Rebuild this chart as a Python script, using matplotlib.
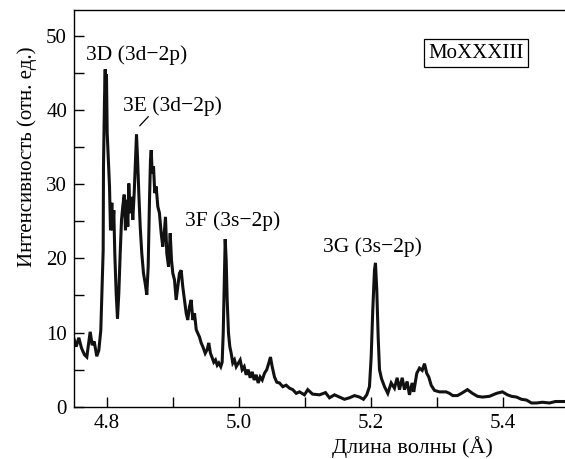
import matplotlib
matplotlib.use("Agg")
import matplotlib.pyplot as plt
from matplotlib.ticker import MultipleLocator

plt.rcParams['font.family'] = ['Liberation Serif', 'DejaVu Serif']

# Wavelength (Angstrom) and intensity (rel. units)
wavelength = [
    4.7492, 4.7533, 4.7573, 4.7614, 4.7659, 4.7694, 4.7745, 4.7776, 4.7806, 4.7845,
    4.7876, 4.7906, 4.7927, 4.7942, 4.7947, 4.7962, 4.7973, 4.7982, 4.7992, 4.8003,
    4.8018, 4.8038, 4.8053, 4.8073, 4.8088, 4.8103, 4.8118, 4.8139, 4.8159, 4.8179,
    4.8200, 4.8220, 4.8239, 4.8261, 4.8280, 4.8300, 4.8315, 4.8330, 4.8352, 4.8371,
    4.8391, 4.8412, 4.8432, 4.8447, 4.8462, 4.8482, 4.8503, 4.8527, 4.8553, 4.8579,
    4.8603, 4.8624, 4.8644, 4.8659, 4.8670, 4.8685, 4.8705, 4.8724, 4.8745, 4.8770,
    4.8795, 4.8821, 4.8845, 4.8871, 4.8886, 4.8906, 4.8932, 4.8958, 4.8977, 4.8997,
    4.9023, 4.9048, 4.9073, 4.9098, 4.9124, 4.9148, 4.9174, 4.9200, 4.9224, 4.9250,
    4.9276, 4.9300, 4.9326, 4.9352, 4.9376, 4.9402, 4.9427, 4.9452, 4.9488, 4.9518,
    4.9542, 4.9568, 4.9594, 4.9618, 4.9644, 4.9670, 4.9694, 4.9724, 4.9745, 4.9761,
    4.9776, 4.9791, 4.9806, 4.9821, 4.9841, 4.9861, 4.9882, 4.9906, 4.9932, 4.9958,
    4.9992, 5.0018, 5.0048, 5.0079, 5.0109, 5.0139, 5.0170, 5.0200, 5.0230, 5.0261,
    5.0291, 5.0321, 5.0352, 5.0386, 5.0421, 5.0452, 5.0477, 5.0503, 5.0538, 5.0573,
    5.0614, 5.0664, 5.0715, 5.0765, 5.0815, 5.0867, 5.0917, 5.0992, 5.1042, 5.1114,
    5.1220, 5.1311, 5.1371, 5.1447, 5.1523, 5.1598, 5.1674, 5.1750, 5.1826, 5.1886,
    5.1936, 5.1977, 5.2003, 5.2027, 5.2053, 5.2068, 5.2088, 5.2109, 5.2129, 5.2159,
    5.2205, 5.2255, 5.2306, 5.2356, 5.2397, 5.2432, 5.2473, 5.2508, 5.2548, 5.2583,
    5.2624, 5.2648, 5.2694, 5.2735, 5.2776, 5.2811, 5.2845, 5.2876, 5.2912, 5.2962,
    5.3038, 5.3139, 5.3189, 5.3239, 5.3311, 5.3371, 5.3462, 5.3538, 5.3614, 5.3689,
    5.3795, 5.3902, 5.3992, 5.4068, 5.4129, 5.4205, 5.4280, 5.4356, 5.4432, 5.4508,
    5.4598, 5.4705, 5.4795, 5.4902, 5.4947,
]
intensity = [
    9.4, 8.1, 9.3, 7.9, 7.0, 6.7, 10.1, 8.3, 8.8, 6.8,
    7.6, 10.3, 16.7, 21.1, 32.4, 41.4, 45.5, 40.0, 44.8, 36.9,
    33.7, 29.7, 23.8, 27.5, 23.8, 26.5, 20.7, 15.3, 11.9, 15.3,
    20.7, 25.2, 27.0, 28.6, 23.8, 27.9, 24.3, 30.1, 26.1, 28.3,
    25.2, 28.8, 33.3, 36.7, 33.7, 28.8, 24.3, 20.7, 18.0, 16.6,
    15.1, 18.9, 27.9, 33.3, 34.6, 31.5, 32.4, 28.8, 29.7, 27.0,
    26.1, 23.4, 21.6, 23.8, 25.6, 20.7, 18.9, 23.4, 19.8, 18.0,
    17.1, 14.4, 16.2, 18.0, 18.4, 16.2, 14.4, 12.6, 11.7, 13.5,
    14.4, 11.7, 12.6, 10.4, 9.9, 9.4, 8.6, 8.1, 7.2, 7.7,
    8.6, 7.2, 6.6, 6.0, 6.3, 5.6, 5.9, 5.4, 6.0, 9.9,
    16.6, 22.6, 19.8, 14.4, 9.9, 8.1, 7.2, 5.9, 6.3, 5.4,
    5.9, 6.3, 5.0, 5.4, 4.3, 5.0, 3.9, 4.7, 3.6, 4.3,
    3.2, 4.0, 3.6, 4.5, 5.0, 5.9, 6.7, 5.4, 4.0, 3.3,
    3.2, 2.7, 2.9, 2.5, 2.3, 1.8, 2.0, 1.6, 2.3, 1.7,
    1.6, 1.9, 1.2, 1.6, 1.3, 1.0, 1.2, 1.5, 1.3, 1.0,
    1.6, 2.7, 6.7, 13.0, 18.4, 19.4, 15.7, 9.4, 5.0, 3.8,
    2.7, 1.8, 3.2, 2.5, 3.9, 2.3, 3.9, 2.3, 3.4, 1.6,
    3.2, 2.0, 4.5, 5.2, 4.9, 5.8, 4.5, 4.0, 2.9, 2.2,
    2.0, 2.0, 1.8, 1.5, 1.5, 1.8, 2.3, 1.8, 1.4, 1.3,
    1.4, 1.8, 2.0, 1.6, 1.4, 1.3, 1.0, 0.9, 0.5, 0.5,
    0.6, 0.5, 0.7, 0.7, 0.7,
]

line_labels = ["3D (3d\u22122p)", "3E (3d\u22122p)", "3F (3s\u22122p)", "3G (3s\u22122p)"]
label_x = [4.845, 4.899, 4.991, 5.2023]
label_y = [47.4, 40.6, 25.0, 21.5]
ion_label = "MoXXXIII"

xlabel = "Длина волны (Å)"
ylabel = "Интенсивность (отн. ед.)"
xticks = [4.8, 5.0, 5.2, 5.4]
yticks = [0, 10, 20, 30, 40, 50]

fig = plt.figure(figsize=(5.65, 4.59), dpi=100)
ax = fig.add_axes([74 / 565, 1 - 406.7 / 459, 1 - 74 / 565, (406.7 - 10) / 459])

ax.plot(wavelength, intensity, color='#111111', lw=2.2, solid_joinstyle='miter')

ax.set_xlim(4.75, 5.494)
ax.set_ylim(0, 53.5)
ax.set_xticks(xticks)
ax.set_xticklabels([f"{v:.1f}" for v in xticks])
ax.set_yticks(yticks)
ax.xaxis.set_minor_locator(MultipleLocator(0.1))
ax.yaxis.set_minor_locator(MultipleLocator(5))
ax.tick_params(which='both', direction='in', length=7, width=1.0, labelsize=15,
               top=False, right=False, pad=5)
ax.spines['right'].set_visible(False)
for s in ['left', 'bottom', 'top']:
    ax.spines[s].set_linewidth(1.0)

ax.set_xlabel(xlabel, fontsize=16)
ax.xaxis.set_label_coords(0.69, -0.075)
ax.set_ylabel(ylabel, fontsize=15)
ax.yaxis.set_label_coords(-0.075, 0.63)

for t, x, y in zip(line_labels, label_x, label_y):
    ax.text(x, y, t, fontsize=15.5, ha='center', va='center')

# leader line for 3E
ax.annotate("", xy=(4.8467, 37.6), xytext=(4.8655, 39.4),
            arrowprops=dict(arrowstyle='-', lw=0.9, color='black'))

ax.text(5.359, 47.7, ion_label, fontsize=15, ha='center', va='center',
        bbox=dict(boxstyle='square,pad=0.22', fc='white', ec='black', lw=0.9))

fig.savefig("out.png", dpi=100)
